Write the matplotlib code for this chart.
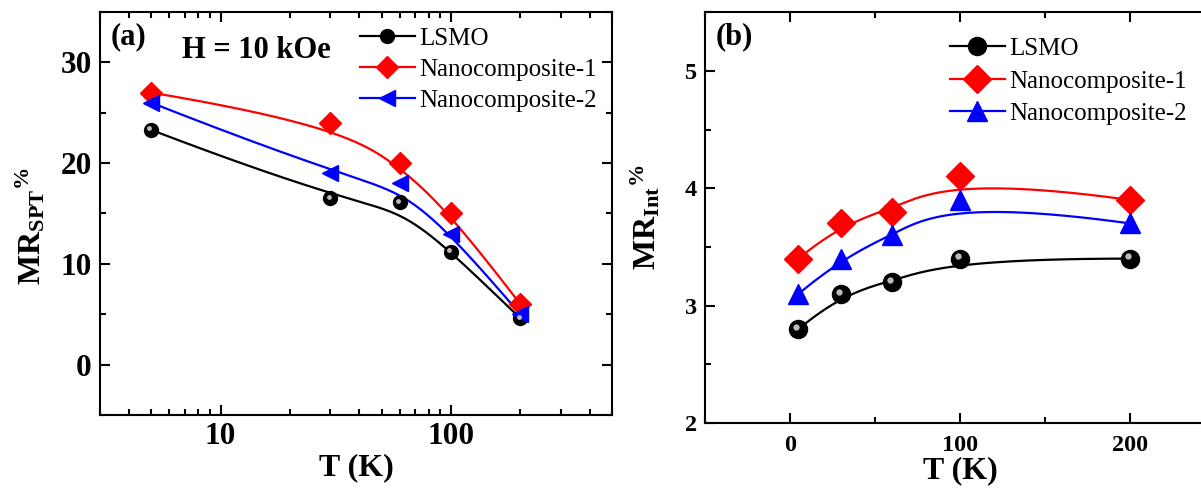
import numpy as np
import matplotlib
matplotlib.use('Agg')
import matplotlib.pyplot as plt
import matplotlib.transforms as mtransforms
from matplotlib.ticker import MultipleLocator, LogLocator, NullFormatter

plt.rcParams['font.family'] = 'Liberation Serif'
plt.rcParams['mathtext.fontset'] = 'custom'
plt.rcParams['mathtext.rm'] = 'Liberation Serif'
plt.rcParams['mathtext.bf'] = 'Liberation Serif:bold'
plt.rcParams['mathtext.it'] = 'Liberation Serif:italic'

# data
temps = [5, 30, 60, 100, 200]
labels = ['LSMO', 'Nanocomposite-1', 'Nanocomposite-2']

mr_spt_lsmo = [23.3, 16.5, 16.1, 11.2, 4.6]
mr_spt_nc1 = [27.0, 24.0, 20.0, 15.0, 6.0]
mr_spt_nc2 = [26.0, 19.0, 18.0, 13.0, 5.0]

mr_int_lsmo = [2.8, 3.1, 3.2, 3.4, 3.4]
mr_int_nc1 = [3.4, 3.7, 3.8, 4.1, 3.9]
mr_int_nc2 = [3.1, 3.4, 3.6, 3.9, 3.7]

colors = ['black', 'red', 'blue']


def bspline(px, py, n=200):
    # clamped cubic B-spline with the data points as control points (Origin style)
    px = np.asarray(px, float)
    py = np.asarray(py, float)
    k = 3
    m = len(px)
    inner = np.linspace(0, 1, m - k + 1)[1:-1]
    knots = np.concatenate([[0] * (k + 1), inner, [1] * (k + 1)])
    t = np.linspace(0, 1, n)
    t[-1] = 1 - 1e-9

    def basis(i, d, t):
        if d == 0:
            return np.where((knots[i] <= t) & (t < knots[i + 1]), 1.0, 0.0)
        out = np.zeros_like(t)
        den1 = knots[i + d] - knots[i]
        den2 = knots[i + d + 1] - knots[i + 1]
        if den1 > 0:
            out += (t - knots[i]) / den1 * basis(i, d - 1, t)
        if den2 > 0:
            out += (knots[i + d + 1] - t) / den2 * basis(i + 1, d - 1, t)
        return out

    B = np.array([basis(i, k, t) for i in range(m)])
    return B.T @ px, B.T @ py


fig = plt.figure(figsize=(12.01, 4.88), dpi=100)
ax1 = fig.add_axes([0.0833, 0.1496, 0.4263, 0.8258])
ax2 = fig.add_axes([0.587, 0.1332, 0.4246, 0.842])


def style_axes(ax, size, xpad):
    for s in ax.spines.values():
        s.set_linewidth(1.5)
    ax.tick_params(which='both', direction='in', top=True, right=True, width=1.5)
    ax.tick_params(which='major', length=7)
    ax.tick_params(which='minor', length=4)
    ax.tick_params(axis='x', which='major', pad=xpad)
    ax.tick_params(axis='y', which='major', pad=6)
    for lab in ax.get_xticklabels() + ax.get_yticklabels():
        lab.set_fontsize(size)
        lab.set_fontweight('bold')


def sphere(ax, x, y, ms):
    ax.plot(x, y, ls='none', marker='o', ms=ms, mfc='black', mec='black', zorder=3)
    off = mtransforms.offset_copy(ax.transData, fig=fig, x=-ms * 0.12, y=ms * 0.12, units='points')
    ax.plot(x, y, ls='none', marker='o', ms=ms * 0.35, mfc='#d0d0d0', mec='none',
            alpha=0.9, transform=off, zorder=4)


# panel (a)
spt = [mr_spt_lsmo, mr_spt_nc1, mr_spt_nc2]
mk_a = ['o', 'D', '<']
ms_a = [10, 11, 11]
for vals, c, m, ms, lab in zip(spt, colors, mk_a, ms_a, labels):
    lx, ly = bspline(np.log10(temps), vals)
    ax1.plot(10 ** lx, ly, color=c, lw=1.6, zorder=2)
    if m == 'o':
        sphere(ax1, temps, vals, ms)
    else:
        ax1.plot(temps, vals, ls='none', marker=m, ms=ms, color=c, zorder=3)
    ax1.plot([], [], color=c, lw=1.6, marker=m, ms=ms, label=lab)

ax1.set_xscale('log')
ax1.set_xlim(3, 500)
ax1.set_ylim(-5, 35)
ax1.yaxis.set_major_locator(MultipleLocator(10))
ax1.yaxis.set_minor_locator(MultipleLocator(5))
ax1.xaxis.set_minor_locator(LogLocator(base=10, subs=np.arange(2, 10)))
ax1.xaxis.set_minor_formatter(NullFormatter())
ax1.set_xticks([10, 100])
ax1.set_xticklabels(['10', '100'])
style_axes(ax1, 22.5, 5)
ax1.set_xlabel('T (K)', fontsize=23, fontweight='bold', labelpad=2)
ax1.set_ylabel(r'$\mathbf{MR_{SPT}{}^{\%}}$', fontsize=23, labelpad=9)
ax1.yaxis.label.set_y(0.47)
ax1.text(0.02, 0.975, '(a)', transform=ax1.transAxes, fontsize=22, fontweight='bold', va='top')
ax1.text(0.16, 0.94, 'H = 10 kOe', transform=ax1.transAxes, fontsize=22, fontweight='bold', va='top')
ax1.legend(loc='upper left', bbox_to_anchor=(0.497, 0.975), frameon=False, fontsize=18,
           handlelength=2.2, handletextpad=0.2, labelspacing=0.35, borderpad=0.2, borderaxespad=0)

# panel (b)
mr_int = [mr_int_lsmo, mr_int_nc1, mr_int_nc2]
mk_b = ['o', 'D', '^']
ms_b = [13, 14, 15]
for vals, c, m, ms, lab in zip(mr_int, colors, mk_b, ms_b, labels):
    lx, ly = bspline(temps, vals)
    ax2.plot(lx, ly, color=c, lw=1.6, zorder=2)
    if m == 'o':
        sphere(ax2, temps, vals, ms)
    else:
        ax2.plot(temps, vals, ls='none', marker=m, ms=ms, color=c, zorder=3)
    ax2.plot([], [], color=c, lw=1.6, marker=m, ms=ms, label=lab)

ax2.set_xlim(-50, 250)
ax2.set_ylim(2, 5.5)
ax2.xaxis.set_major_locator(MultipleLocator(100))
ax2.xaxis.set_minor_locator(MultipleLocator(50))
ax2.yaxis.set_major_locator(MultipleLocator(1))
ax2.yaxis.set_minor_locator(MultipleLocator(0.5))
style_axes(ax2, 17.5, 9)
ax2.set_xlabel('T (K)', fontsize=23, fontweight='bold', labelpad=0)
ax2.set_ylabel(r'$\mathbf{MR_{Int}{}^{\%}}$', fontsize=23, labelpad=16)
ax2.text(0.02, 0.975, '(b)', transform=ax2.transAxes, fontsize=22, fontweight='bold', va='top')
ax2.legend(loc='upper left', bbox_to_anchor=(0.47, 0.95), frameon=False, fontsize=18,
           handlelength=2.2, handletextpad=0.2, labelspacing=0.4, borderpad=0.2, borderaxespad=0)

fig.savefig('out.png', dpi=100)
